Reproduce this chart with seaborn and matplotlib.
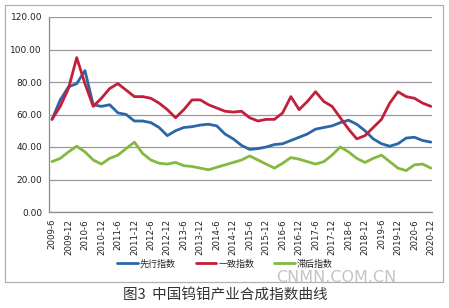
import matplotlib
matplotlib.use("Agg")
import matplotlib.pyplot as plt
import seaborn as sns
import pandas as pd
from matplotlib.patches import Rectangle

# ---- data (quarterly readings) ----
dates = ["2009-6", "2009-9", "2009-12", "2010-3", "2010-6", "2010-9", "2010-12",
         "2011-3", "2011-6", "2011-9", "2011-12", "2012-3", "2012-6", "2012-9", "2012-12",
         "2013-3", "2013-6", "2013-9", "2013-12", "2014-3", "2014-6", "2014-9", "2014-12",
         "2015-3", "2015-6", "2015-9", "2015-12", "2016-3", "2016-6", "2016-9", "2016-12",
         "2017-3", "2017-6", "2017-9", "2017-12", "2018-3", "2018-6", "2018-9", "2018-12",
         "2019-3", "2019-6", "2019-9", "2019-12", "2020-3", "2020-6", "2020-9", "2020-12"]
leading = [57, 69, 77, 79, 87, 66, 65, 66, 61, 60, 56, 56, 55, 52, 47, 50, 52, 52.5, 53.5,
           54, 53, 48, 45, 41, 38.5, 39, 40, 41.5, 42, 44, 46, 48, 51, 52, 53, 55, 56.5,
           54, 50, 45, 42, 40.5, 42, 45.5, 46, 44, 43]
coincident = [57, 65, 76, 95, 79, 65, 70, 76, 79, 75, 71, 71, 70, 67, 63, 58, 63, 69, 69,
              66, 64, 62, 61.5, 62, 58, 56, 57, 57, 61, 71, 63, 68, 74, 68, 65, 58, 51,
              45, 47, 52, 57, 67, 74, 71, 70, 67, 65]
lagging = [31, 33, 37, 40.5, 37, 32, 29.5, 33, 35, 39, 43, 36, 32, 30, 29.5, 30.5, 28.5,
           28, 27, 26, 27.5, 29, 30.5, 32, 34.5, 32, 29.5, 27, 30, 33.5, 32.5, 31, 29.5,
           31, 35, 40, 37, 33, 30.5, 33, 35, 31, 27, 25.5, 29, 29.5, 27]
series_names = ["先行指数", "一致指数", "滞后指数"]
tick_labels = ["2009-6", "2009-12", "2010-6", "2010-12", "2011-6", "2011-12", "2012-6",
               "2012-12", "2013-6", "2013-12", "2014-6", "2014-12", "2015-6", "2015-12",
               "2016-6", "2016-12", "2017-6", "2017-12", "2018-6", "2018-12", "2019-6",
               "2019-12", "2020-6", "2020-12"]
y_ticks = [0, 20, 40, 60, 80, 100, 120]


def month_index(s):
    y, m = s.split("-")
    return (int(y) - 2009) * 12 + int(m) - 6


rows = []
for name, vals in zip(series_names, [leading, coincident, lagging]):
    for d, v in zip(dates, vals):
        rows.append({"m": month_index(d), "value": v, "series": name})
df = pd.DataFrame(rows)

sns.set_style("white")
plt.rcParams["font.family"] = ["Noto Sans CJK SC", "DejaVu Sans"]

fig = plt.figure(figsize=(4.49, 3.08), dpi=100)
ax = fig.add_axes([49 / 449, 1 - 212 / 308, (432 - 49) / 449, (212 - 17) / 308])

palette = {"先行指数": "#2b66a8", "一致指数": "#c21f3a", "滞后指数": "#84b83f"}
sns.lineplot(data=df, x="m", y="value", hue="series", palette=palette,
             linewidth=2.0, ax=ax, legend=False)

ax.set_xlim(-1.1, 138.4)
ax.set_ylim(0, 120)
ax.set_yticks(y_ticks)
ax.set_yticklabels([f"{v:.2f}" for v in y_ticks], fontsize=6.5, color="#222222",
                   fontfamily="DejaVu Sans")
ax.set_xticks([month_index(t) for t in tick_labels])
ax.set_xticklabels(tick_labels, rotation=90, fontsize=6.2, color="#222222",
                   fontfamily="DejaVu Sans")
ax.set_xlabel("")
ax.set_ylabel("")
ax.grid(axis="y", color="#9a9a9a", linewidth=0.9)
ax.grid(axis="x", visible=False)
for s in ["top", "right"]:
    ax.spines[s].set_visible(False)
for s in ["left", "bottom"]:
    ax.spines[s].set_color("#8a8a8a")
    ax.spines[s].set_linewidth(0.9)
ax.tick_params(axis="both", length=3, color="#8a8a8a", width=0.8, pad=2)

# legend
from matplotlib.lines import Line2D
handles = [Line2D([0], [0], color=palette[n], lw=2) for n in series_names]
fig.legend(handles, series_names, loc="center", bbox_to_anchor=(225 / 449, 1 - 264 / 308),
           ncol=3, frameon=False, fontsize=6.5, handlelength=2.3, columnspacing=2.2,
           handletextpad=0.2)

# outer frame
fig.patches.append(Rectangle((5 / 449, 1 - 282 / 308), 438 / 449, 277 / 308,
                             transform=fig.transFigure, fill=False,
                             edgecolor="#b0b0b0", linewidth=0.9))

# watermark
fig.text(336 / 449, 1 - 277 / 308, "CNMN.COM.CN", ha="center", va="center",
         fontsize=11.5, color="#c4c4c4", fontfamily="DejaVu Sans")

# caption
fig.text(225 / 449, 1 - 295 / 308, "图3  中国钨钼产业合成指数曲线", ha="center",
         va="center", fontsize=10.5, color="#333333")

fig.savefig("out.png", dpi=100, facecolor="white")
